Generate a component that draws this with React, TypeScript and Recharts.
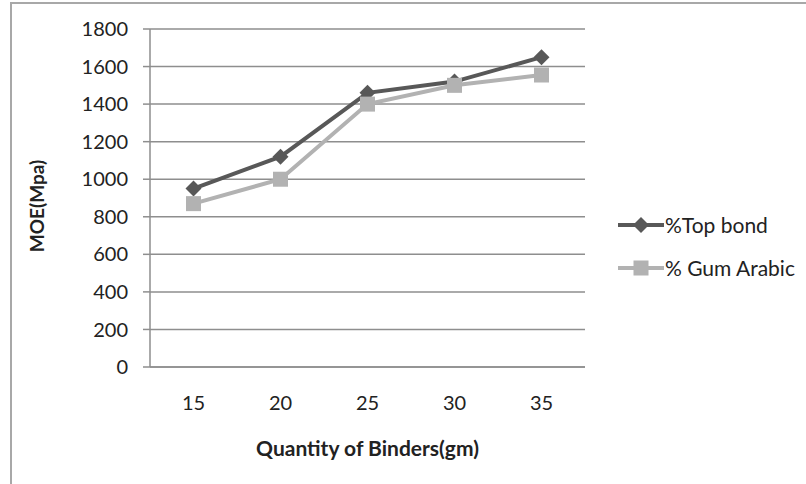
import React from "react";
import { LineChart, Line, XAxis, YAxis, CartesianGrid, Label } from "recharts";

const quantities = ["15", "20", "25", "30", "35"];
const topBond = [950, 1120, 1460, 1520, 1650];
const gumArabic = [870, 1000, 1400, 1500, 1555];
const yTicks = [0, 200, 400, 600, 800, 1000, 1200, 1400, 1600, 1800];

const data = quantities.map((q, i) => ({ q, topBond: topBond[i], gumArabic: gumArabic[i] }));

const DARK = "#585858";
const LIGHT = "#b2b2b2";
const GRID = "#8e8e8e";
const FONT = "Lato, 'Open Sans', sans-serif";

const Diamond = ({ cx, cy, size = 8, fill }: any) => (
  <polygon
    points={`${cx},${cy - size} ${cx + size},${cy} ${cx},${cy + size} ${cx - size},${cy}`}
    fill={fill}
  />
);

const Square = ({ cx, cy, size = 7.5, fill }: any) => (
  <rect x={cx - size} y={cy - size} width={size * 2} height={size * 2} fill={fill} />
);

function LegendBox() {
  const items = [
    { label: "%Top bond", color: DARK, shape: "diamond" },
    { label: "% Gum Arabic", color: LIGHT, shape: "square" },
  ];
  return (
    <div style={{ position: "absolute", left: 618, top: 203, fontFamily: FONT, fontSize: 21, color: "#222" }}>
      {items.map((it) => (
        <div key={it.label} style={{ display: "flex", alignItems: "center", height: 43 }}>
          <svg width={47} height={20}>
            <line x1={0} y1={10} x2={46} y2={10} stroke={it.color} strokeWidth={4} />
            {it.shape === "diamond"
              ? <Diamond cx={23} cy={10} size={8} fill={it.color} />
              : <Square cx={23} cy={10} size={7.5} fill={it.color} />}
          </svg>
          <span>{it.label}</span>
        </div>
      ))}
    </div>
  );
}

// y title sits a bit below the plot centre in the original
const YTitle = () => (
  <text
    x={36}
    y={206}
    transform="rotate(-90 36 206)"
    textAnchor="middle"
    dominantBaseline="central"
    style={{ fontWeight: "bold", fontSize: 19, fill: "#222", fontFamily: FONT }}
  >
    MOE(Mpa)
  </text>
);

export default function App() {
  return (
    <div style={{ position: "absolute", left: 0, top: 0, width: 806, height: 484, background: "#fff", overflow: "hidden" }}>
      <div
        style={{
          position: "absolute", left: 10, top: 2, width: 820, height: 500,
          borderLeft: `2px solid #a8a8a8`, borderTop: `2px solid #a8a8a8`,
        }}
      />
      <LineChart
        width={806}
        height={484}
        data={data}
        margin={{ top: 29, right: 221, left: 20, bottom: 0 }}
        style={{ position: "absolute", left: 0, top: 0, fontFamily: FONT }}
      >
        <CartesianGrid horizontal vertical={false} stroke={GRID} strokeWidth={1.5} />
        <XAxis
          dataKey="q"
          height={117}
          padding={{ left: 43.5, right: 43.5 }}
          axisLine={{ stroke: GRID, strokeWidth: 1.5 }}
          tickLine={false}
          tickSize={0}
          tickMargin={29}
          tick={{ fill: "#222", fontSize: 20 }}
        >
          <Label
            value="Quantity of Binders(gm)"
            position="insideBottom"
            offset={28}
            style={{ fontWeight: "bold", fontSize: 21, fill: "#222" }}
          />
        </XAxis>
        <YAxis
          width={130}
          domain={[0, 1800]}
          ticks={yTicks}
          interval={0}
          axisLine={{ stroke: GRID, strokeWidth: 1.5 }}
          tickLine={{ stroke: GRID, strokeWidth: 1.5 }}
          tickSize={7}
          tickMargin={15}
          tick={{ fill: "#222", fontSize: 20 }}
        >
          <Label value="MOE(Mpa)" content={() => <YTitle />} />
        </YAxis>
        <Line
          dataKey="topBond"
          name="%Top bond"
          stroke={DARK}
          strokeWidth={4}
          isAnimationActive={false}
          dot={(p: any) => <Diamond key={`d-${p.index}`} cx={p.cx} cy={p.cy} size={8} fill={DARK} />}
          activeDot={false}
        />
        <Line
          dataKey="gumArabic"
          name="% Gum Arabic"
          stroke={LIGHT}
          strokeWidth={4}
          isAnimationActive={false}
          dot={(p: any) => <Square key={`s-${p.index}`} cx={p.cx} cy={p.cy} size={7.5} fill={LIGHT} />}
          activeDot={false}
        />
      </LineChart>
      <LegendBox />
    </div>
  );
}
